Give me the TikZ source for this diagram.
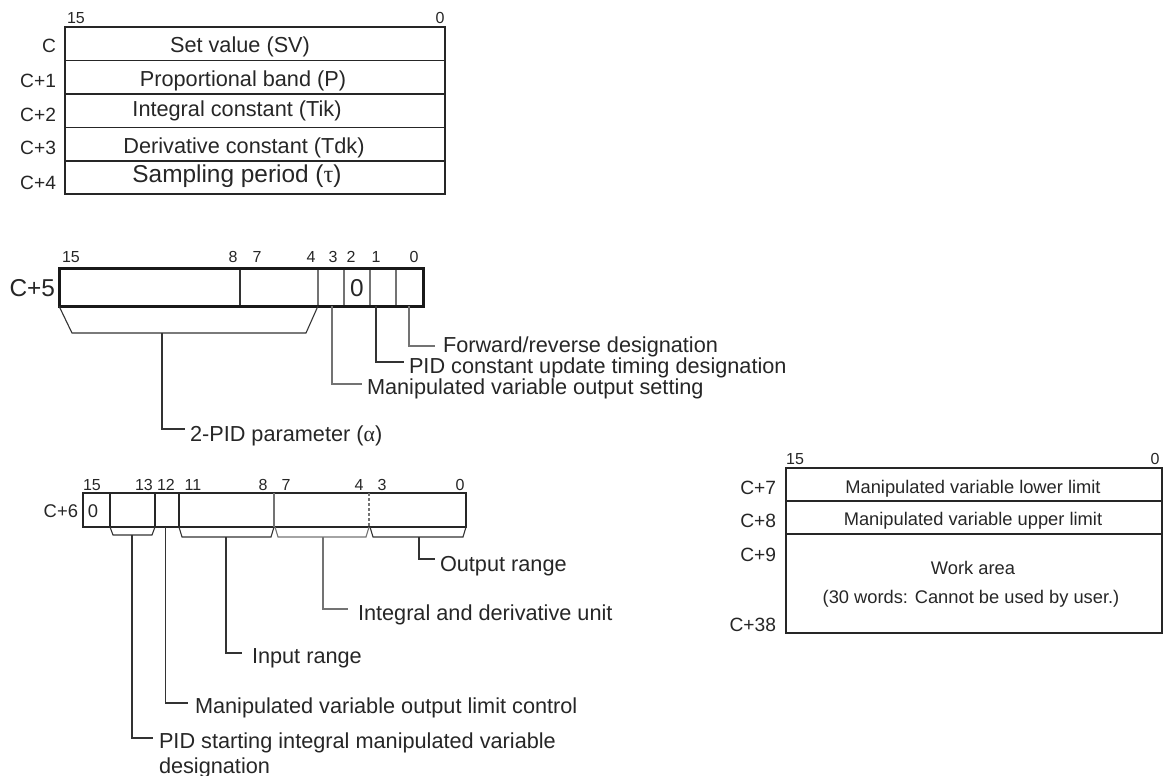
\documentclass[tikz,border=0pt]{standalone}
\usepackage{fontspec}
\setmainfont{Liberation Sans}
\newfontfamily\grk{Liberation Serif}
\definecolor{lg}{gray}{0.45}
\begin{document}
\begin{tikzpicture}[x=0.5pt,y=-0.5pt,
  every node/.style={inner sep=0pt, outer sep=0pt, text=black!85},
  tx/.style={font=\fontsize{10.85}{13}\selectfont},
  txr/.style={font=\fontsize{9.15}{11}\selectfont},
  big/.style={font=\fontsize{12.2}{14}\selectfont},
  rl/.style={font=\fontsize{9.6}{11}\selectfont, anchor=base east},
  bit/.style={font=\fontsize{8}{10}\selectfont, anchor=base},
  ln/.style={line width=0.55pt, draw=black!85},
  gl/.style={line width=0.55pt, draw=lg},
  lead/.style={line width=0.55pt, draw=black!80},
  leadg/.style={line width=0.55pt, draw=lg}]
\useasboundingbox (0,0) rectangle (1163,776);

% ---------------- top table ----------------
\draw[ln, line width=0.7pt] (65,27) rectangle (445,194);
\foreach \y in {60.5,94,127.5,161} \draw[ln] (65,\y) -- (445,\y);
\node[bit] (t15) at (76,24) {15};
\node[bit] (t0) at (440,24) {0};
\node[rl] (rC) at (56,52) {C};
\node[rl] (rC1) at (56,87) {C+1};
\node[rl] (rC2) at (56,121) {C+2};
\node[rl] (rC3) at (56,154) {C+3};
\node[rl] (rC4) at (56,189) {C+4};
\node[tx, anchor=base] (sv) at (240,53) {Set value (SV)};
\node[tx, anchor=base] (pb) at (243,86) {Proportional band (P)};
\node[tx, anchor=base] (tik) at (237,116) {Integral constant (Tik)};
\node[tx, anchor=base] (tdk) at (244,153) {Derivative constant (Tdk)};
\node[big, anchor=base] (sp) at (237,182) {Sampling period ({\grk τ})};

% ---------------- C+5 ----------------
\node[big, anchor=base east] (c5) at (55,296) {C+5};
\draw[black!80, line width=0.55pt] (240,268) -- (240,306);
\foreach \x in {318,344,370,396} \draw[gl] (\x,268) -- (\x,306);
\draw[black!90, line width=1.5pt] (59,268) rectangle (423,306);
\node[big, anchor=base] (z5) at (357,296) {0};
\node[bit] (a15) at (71,262) {15};
\node[bit] (a8) at (233,262) {8};
\node[bit] (a7) at (257,262) {7};
\node[bit] (a4) at (311,262) {4};
\node[bit] (a3) at (333,262) {3};
\node[bit] (a2) at (351,262) {2};
\node[bit] (a1) at (376,262) {1};
\node[bit] (a0) at (414,262) {0};
% bracket 15..4
\draw[lead] (59,306) -- (72,333) -- (306,333) -- (318,306);
\coordinate (br5) at (162,333);
\coordinate (pe) at (185,429);
\draw[lead] (br5) |- (pe);
\node[tx, anchor=base west] (pid2) at (190,441) {2-PID parameter ({\grk α})};
% bit 3
\coordinate (b3) at (332,306); \coordinate (b3e) at (362,384);
\draw[leadg] (b3) |- (b3e);
\node[tx, anchor=base west] (mvs) at (367,394) {Manipulated variable output setting};
% bit 1
\coordinate (b1) at (376,306); \coordinate (b1e) at (404,362);
\draw[lead] (b1) |- (b1e);
\node[tx, anchor=base west] (pcu) at (409,373) {PID constant update timing designation};
% bit 0
\coordinate (b0) at (409,306); \coordinate (b0e) at (435,346);
\draw[leadg] (b0) |- (b0e);
\node[tx, anchor=base west] (frd) at (443,352) {Forward/reverse designation};

% ---------------- C+6 ----------------
\node[font=\fontsize{9.2}{11}\selectfont, anchor=base east] (c6) at (78,517.5) {C+6};
\draw[ln] (83,493) rectangle (466,527);
\draw[ln] (179,493) -- (179,527);
\draw[gl] (274,493) -- (274,527);
\draw[gl, dash pattern=on 1.5pt off 1pt] (369,493) -- (369,527);
\draw[black!85, line width=0.9pt] (110,493) rectangle (155,527);
\node[font=\fontsize{9.2}{11}\selectfont, anchor=base] (z6) at (93,517.5) {0};
\node[bit] (d15) at (92,490) {15};
\node[bit] (d13) at (144,490) {13};
\node[bit] (d12) at (166,490) {12};
\node[bit] (d11) at (193,490) {11};
\node[bit] (d8) at (263,490) {8};
\node[bit] (d7) at (286,490) {7};
\node[bit] (d4) at (359,490) {4};
\node[bit] (d3) at (382,490) {3};
\node[bit] (d0) at (460,490) {0};
% brackets
\draw[lead] (110,527) -- (113,535) -- (152,535) -- (155,527);
\draw[lead] (179,527) -- (182,537) -- (271,537) -- (274,527);
\draw[leadg] (275,527) -- (278,537) -- (366,537) -- (369,527);
\draw[lead] (370,527) -- (373,537) -- (463,537) -- (466,527);
% leaders
\coordinate (o0) at (419,537); \coordinate (oe) at (435,559);
\draw[lead] (o0) |- (oe);
\node[tx, anchor=base west] (orng) at (440,571) {Output range};
\coordinate (i0) at (323,537); \coordinate (ie) at (348,609);
\draw[leadg] (i0) |- (ie);
\node[tx, anchor=base west] (idu) at (358,620) {Integral and derivative unit};
\coordinate (n0) at (226,537); \coordinate (ne) at (242,653);
\draw[lead] (n0) |- (ne);
\node[tx, anchor=base west] (inr) at (252,663) {Input range};
\coordinate (m0) at (165.5,527); \coordinate (me) at (188,703);
\draw[lead] (m0) |- (me);
\node[tx, anchor=base west] (mlc) at (195,713) {Manipulated variable output limit control};
\coordinate (p0) at (132,535); \coordinate (pe2) at (153,738);
\draw[lead] (p0) |- (pe2);
\node[tx, anchor=base west] (psi) at (159,748) {PID starting integral manipulated variable};
\node[tx, anchor=base west] (psi2) at (159,773) {designation};

% ---------------- right table ----------------
\draw[ln, line width=0.7pt] (786,468) rectangle (1162,633);
\draw[ln, line width=0.9pt] (786,501) -- (1162,501);
\draw[ln] (786,534) -- (1162,534);
\draw[black!85, line width=1pt] (786,633) -- (1162,633);
\node[bit] (e15) at (795,464) {15};
\node[bit] (e0) at (1155,464) {0};
\node[rl] (rC7) at (776,494) {C+7};
\node[rl] (rC8) at (776,527) {C+8};
\node[rl] (rC9) at (776,561) {C+9};
\node[rl] (rC38) at (776,631) {C+38};
\node[txr, anchor=base] (mll) at (973,493.5) {Manipulated variable lower limit};
\node[txr, anchor=base] (mul) at (973,525.5) {Manipulated variable upper limit};
\node[txr, anchor=base] (wa) at (973,574.5) {Work area};
\node[txr, anchor=base] (w30) at (971,603.5) {(30 words: Cannot be used by user.)};
\end{tikzpicture}
\end{document}
